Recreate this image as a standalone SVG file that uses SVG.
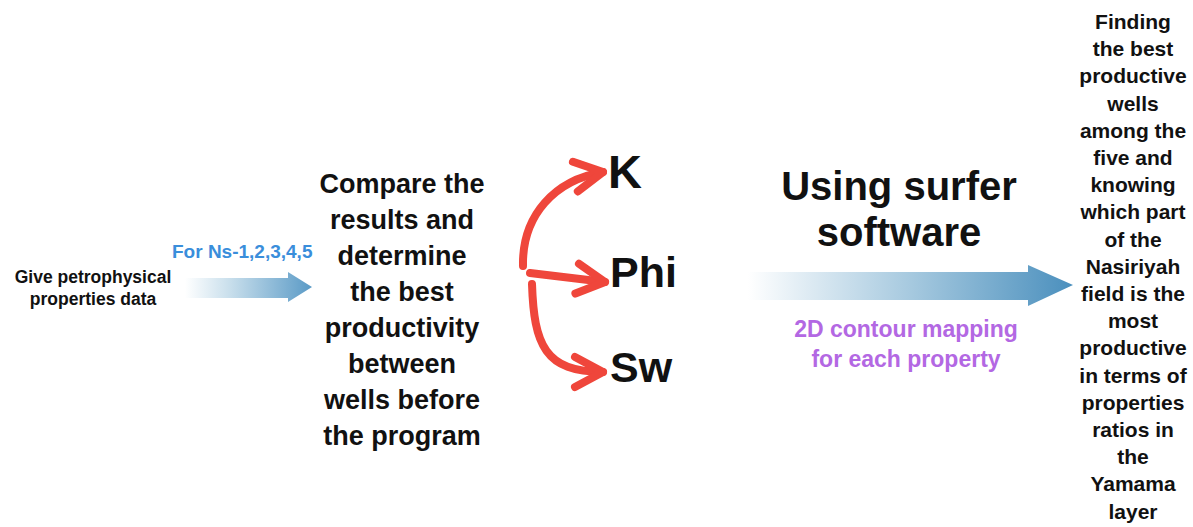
<svg xmlns="http://www.w3.org/2000/svg" width="1193" height="527" viewBox="0 0 1193 527">
<style>
text{font-family:"Liberation Sans",Arial,sans-serif;font-weight:bold;fill:#111;text-anchor:middle}
.blue{fill:#3a8edb;text-anchor:start}
.purple{fill:#b368e3}
.red{fill:none;stroke:#ef463b;stroke-width:8;stroke-linecap:round;stroke-linejoin:round}
</style>
<defs>
<linearGradient id="g1" gradientUnits="userSpaceOnUse" x1="185" y1="0" x2="312" y2="0">
<stop offset="0" stop-color="#ffffff"/>
<stop offset="0.35" stop-color="#c9dfec"/>
<stop offset="1" stop-color="#5a9ac6"/>
</linearGradient>
<linearGradient id="g2" gradientUnits="userSpaceOnUse" x1="748" y1="0" x2="1074" y2="0">
<stop offset="0" stop-color="#ffffff"/>
<stop offset="0.2" stop-color="#dbe9f2"/>
<stop offset="0.5" stop-color="#a6c9df"/>
<stop offset="1" stop-color="#4a8fbd"/>
</linearGradient>
<marker id="chev" markerUnits="userSpaceOnUse" markerWidth="40" markerHeight="40" refX="0" refY="0" orient="auto" overflow="visible">
<path d="M-28,-15 L0,0 L-28,15" fill="none" stroke="#ef463b" stroke-width="8" stroke-linecap="round" stroke-linejoin="round"/>
</marker>
</defs>
<rect width="1193" height="527" fill="#ffffff"/>

<g id="connectors">
<path id="arrow-input" d="M185,278 L288,278 L288,272 L312,287 L288,302 L288,298 L185,298 Z" fill="url(#g1)"/>
<path id="arrow-k" class="red" d="M523,266 C522,215 555,180 603,172" marker-end="url(#chev)"/>
<path id="arrow-phi" class="red" d="M530,273 L605,282" marker-end="url(#chev)"/>
<path id="arrow-sw" class="red" d="M532,284 C534,345 545,372 603,372" marker-end="url(#chev)"/>
<path id="arrow-surfer" d="M748,272 L1028,272 L1028,265 L1073,285 L1028,306 L1028,300 L748,300 Z" fill="url(#g2)"/>
</g>

<g id="node-input">
<text x="93" y="283" font-size="17.5">Give petrophysical</text>
<text x="93" y="305" font-size="17.5">properties data</text>
</g>
<g id="label-wells">
<text class="blue" x="172" y="258" font-size="19">For Ns-1,2,3,4,5</text>
</g>

<g id="node-compare" font-size="27">
<text x="402" y="193">Compare the</text>
<text x="402" y="229">results and</text>
<text x="402" y="265">determine</text>
<text x="402" y="301">the best</text>
<text x="402" y="337">productivity</text>
<text x="402" y="373">between</text>
<text x="402" y="409">wells before</text>
<text x="402" y="445">the program</text>
</g>

<g id="node-k"><text x="608" y="188" font-size="47" style="text-anchor:start">K</text></g>
<g id="node-phi"><text x="610" y="287" font-size="43" style="text-anchor:start">Phi</text></g>
<g id="node-sw"><text x="610" y="382" font-size="43" style="text-anchor:start">Sw</text></g>

<g id="label-surfer" font-size="40">
<text x="899" y="200">Using surfer</text>
<text x="899" y="246">software</text>
</g>
<g id="label-contour" font-size="23">
<text class="purple" x="906" y="337">2D contour mapping</text>
<text class="purple" x="906" y="367">for each property</text>
</g>

<g id="node-result" font-size="21">
<text x="1133" y="29">Finding</text>
<text x="1133" y="56.2">the best</text>
<text x="1133" y="83.4">productive</text>
<text x="1133" y="110.6">wells</text>
<text x="1133" y="137.8">among the</text>
<text x="1133" y="165">five and</text>
<text x="1133" y="192.2">knowing</text>
<text x="1133" y="219.4">which part</text>
<text x="1133" y="246.6">of the</text>
<text x="1133" y="273.8">Nasiriyah</text>
<text x="1133" y="301">field is the</text>
<text x="1133" y="328.2">most</text>
<text x="1133" y="355.4">productive</text>
<text x="1133" y="382.6">in terms of</text>
<text x="1133" y="409.8">properties</text>
<text x="1133" y="437">ratios in</text>
<text x="1133" y="464.2">the</text>
<text x="1133" y="491.4">Yamama</text>
<text x="1133" y="518.6">layer</text>
</g>
</svg>
